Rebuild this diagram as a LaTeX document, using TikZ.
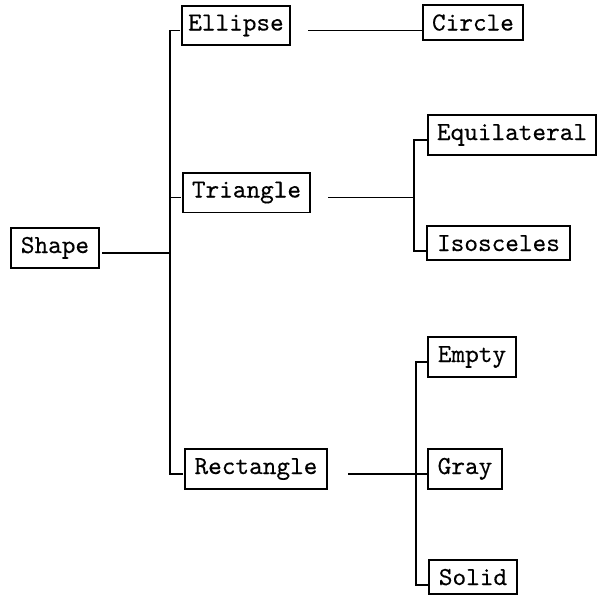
\documentclass[tikz,border=0pt]{standalone}
\usepackage{fontspec}
% typewriter face for the labels, slightly emboldened
\newfontfamily\boxfont{lmmono10-regular}[Extension=.otf,FakeBold=0.3]
\begin{document}
\begin{tikzpicture}[x=0.5pt,y=-0.5pt,
  box/.style={draw,line width=0.9pt,rectangle,anchor=base west,outer sep=0pt,
    inner xsep=3pt,inner ysep=4.5pt,font=\fontsize{13}{15}\selectfont\boxfont},
  link/.style={line width=0.9pt}]
\useasboundingbox (0,0) rectangle (599,594);

% first level
\node[box,minimum width=44pt]   (S) at (11,253)  {Shape};
% second level
\node[box,minimum width=54pt]   (E) at (182,30.5) {Ellipse};
\node[box,minimum width=63.5pt] (T) at (183,197.5) {Triangle};
\node[box,minimum width=71pt]   (R) at (185,474) {Rectangle};
% third level
\node[box,minimum width=50pt]   (C)  at (423,30.5) {Circle};
\node[box,minimum width=84pt]   (Eq) at (428,140) {Equilateral};
\node[box,minimum width=71.5pt] (Is) at (427,251) {Isosceles};
\node[box,minimum width=44pt]   (Em) at (428,362) {Empty};
\node[box,minimum width=37pt]   (G)  at (428,474) {Gray};
\node[box,minimum width=44pt]   (So) at (429,585) {Solid};

% trunk positions
\coordinate (t1) at (170,0);
\coordinate (t2) at (414,0);
\coordinate (t3) at (416,0);

% Shape -> Ellipse / Triangle / Rectangle
\draw[link] ([xshift=1.5pt]S.base east) -- (S.base -| t1);
\draw[link] ([xshift=-1pt]E.base west) -- (E.base -| t1)
            -- (R.base -| t1) -- ([xshift=-1pt]R.base west);
\draw[link] (T.base -| t1) -- ([xshift=-1pt]T.base west);

% Ellipse -> Circle
\draw[link] ([xshift=9pt]E.base east) -- ([xshift=-0.75pt]C.base west);

% Triangle -> Equilateral / Isosceles
\draw[link] ([xshift=9pt]T.base east) -- (T.base -| t2);
\draw[link] ([xshift=-0.75pt]Eq.base west) -- (Eq.base -| t2)
            -- (Is.base -| t2) -- ([xshift=-0.75pt]Is.base west);

% Rectangle -> Empty / Gray / Solid
\draw[link] ([xshift=10.5pt]R.base east) -- ([xshift=-0.5pt]G.base west);
\draw[link] ([xshift=-0.75pt]Em.base west) -- (Em.base -| t3)
            -- (So.base -| t3) -- ([xshift=-0.75pt]So.base west);
\end{tikzpicture}
\end{document}
